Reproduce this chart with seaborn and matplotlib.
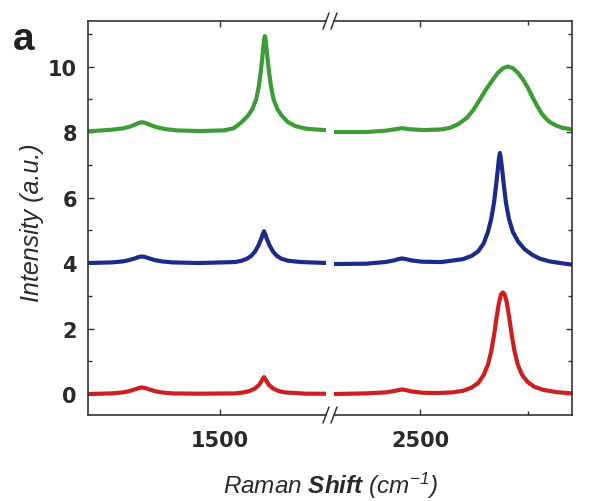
import pandas as pd
import matplotlib
matplotlib.use("Agg")
import matplotlib.pyplot as plt
import seaborn as sns
from matplotlib.lines import Line2D
from matplotlib.ticker import MultipleLocator, FixedLocator

# Spectra (x in cm^-1, intensity offset per trace)
red_x = [889, 1000, 1050, 1080, 1105, 1125, 1139, 1153, 1173, 1198,
         1230, 1280, 1400, 1569, 1610, 1640, 1662, 1680, 1693, 1700,
         1704, 1708, 1715, 1728, 1746, 1768, 1800, 1850, 1900, 2000,
         2100, 2250, 2340, 2380, 2400, 2417, 2435, 2460, 2510, 2580,
         2650, 2700, 2740, 2770, 2795, 2815, 2830, 2843, 2855, 2866,
         2876, 2884, 2892, 2902, 2913, 2925, 2938, 2953, 2973, 3000,
         3030, 3070, 3130, 3204]
red_y = [0.0, 0.02, 0.05, 0.09, 0.14, 0.185, 0.2, 0.185, 0.14, 0.09,
         0.05, 0.02, 0.01, 0.02, 0.05, 0.1, 0.17, 0.27, 0.4, 0.48,
         0.52, 0.48, 0.4, 0.27, 0.17, 0.1, 0.05, 0.03, 0.01, 0.01,
         0.0, 0.02, 0.05, 0.09, 0.12, 0.14, 0.12, 0.08, 0.04, 0.03,
         0.05, 0.1, 0.2, 0.34, 0.58, 0.9, 1.3, 1.8, 2.35, 2.8,
         3.05, 3.1, 3.05, 2.8, 2.35, 1.8, 1.3, 0.9, 0.58, 0.36,
         0.22, 0.13, 0.06, 0.02]

blue_x = [889, 1000, 1050, 1080, 1105, 1125, 1139, 1153, 1173, 1198,
          1230, 1280, 1400, 1569, 1600, 1625, 1645, 1662, 1677, 1690,
          1698, 1704, 1710, 1718, 1731, 1746, 1763, 1785, 1815, 1875,
          2000, 2100, 2250, 2340, 2380, 2400, 2417, 2435, 2460, 2510,
          2600, 2700, 2740, 2770, 2795, 2815, 2830, 2843, 2853, 2861,
          2866, 2870, 2874, 2880, 2888, 2898, 2912, 2930, 2955, 2985,
          3020, 3056, 3100, 3150, 3204]
blue_y = [4.0, 4.02, 4.05, 4.09, 4.14, 4.185, 4.2, 4.185, 4.14, 4.09,
          4.05, 4.02, 4.0, 4.03, 4.07, 4.13, 4.22, 4.35, 4.52, 4.72,
          4.87, 4.97, 4.87, 4.72, 4.52, 4.35, 4.22, 4.13, 4.07, 4.03,
          4.0, 3.97, 3.98, 4.03, 4.08, 4.12, 4.14, 4.12, 4.08, 4.04,
          4.03, 4.12, 4.22, 4.36, 4.6, 4.95, 5.35, 5.85, 6.4, 6.9,
          7.2, 7.36, 7.2, 6.9, 6.4, 5.85, 5.35, 4.95, 4.65, 4.42,
          4.25, 4.13, 4.05, 4.0, 3.95]

green_x = [889, 1000, 1050, 1080, 1105, 1125, 1139, 1153, 1175, 1205,
           1245, 1300, 1407, 1520, 1565, 1600, 1630, 1650, 1668, 1680,
           1688, 1695, 1701, 1705, 1708, 1711, 1715, 1721, 1728, 1736,
           1748, 1766, 1786, 1815, 1850, 1900, 2000, 2100, 2250, 2340,
           2380, 2400, 2417, 2435, 2460, 2520, 2600, 2640, 2680, 2720,
           2750, 2778, 2808, 2838, 2860, 2885, 2907, 2930, 2955, 2977,
           3000, 3020, 3042, 3065, 3085, 3102, 3130, 3160, 3204]
green_y = [8.02, 8.07, 8.11, 8.16, 8.22, 8.28, 8.3, 8.28, 8.22, 8.15,
           8.09, 8.05, 8.03, 8.05, 8.12, 8.3, 8.5, 8.7, 9.0, 9.4,
           9.8, 10.2, 10.6, 10.85, 10.93, 10.85, 10.6, 10.2, 9.8, 9.4,
           9.0, 8.7, 8.5, 8.3, 8.18, 8.1, 8.05, 8.0, 8.0, 8.04,
           8.08, 8.1, 8.12, 8.1, 8.08, 8.06, 8.08, 8.13, 8.25, 8.45,
           8.7, 9.0, 9.32, 9.6, 9.8, 9.95, 10.0, 9.95, 9.8, 9.6,
           9.35, 9.08, 8.8, 8.55, 8.4, 8.3, 8.2, 8.13, 8.08]

y_ticks = [0, 2, 4, 6, 8, 10]

series = [
    (red_x, red_y, "#cc1f1f"),
    (blue_x, blue_y, "#1c2a8c"),
    (green_x, green_y, "#3e9c37"),
]

sns.set_style("ticks")
plt.rcParams["font.family"] = ["Liberation Sans", "DejaVu Sans"]
plt.rcParams["mathtext.fontset"] = "custom"
plt.rcParams["mathtext.rm"] = "Liberation Sans:italic"
plt.rcParams["mathtext.it"] = "Liberation Sans:italic"
plt.rcParams["mathtext.bf"] = "Liberation Sans:italic:bold"

W, H = 598, 502
fig = plt.figure(figsize=(W / 100, H / 100), dpi=100)


def box(x0, x1, y0, y1):
    # pixel edges -> figure fraction
    return [x0 / W, 1 - y1 / H, (x1 - x0) / W, (y1 - y0) / H]


ax_l = fig.add_axes(box(88, 326, 22, 416))
ax_r = fig.add_axes(box(334, 572, 22, 416))

for ax in (ax_l, ax_r):
    for xs, ys, c in series:
        df = pd.DataFrame({"shift": xs, "intensity": ys})
        sns.lineplot(data=df, x="shift", y="intensity", ax=ax, color=c,
                     lw=3.0, legend=False)
    ax.set_xlabel("")
    ax.set_ylabel("")
    ax.set_ylim(-0.64, 11.39)
    ax.set_yticks(y_ticks)
    ax.yaxis.set_minor_locator(MultipleLocator(1))
    for sp in ax.spines.values():
        sp.set_linewidth(1.2)
        sp.set_color("#333333")

ax_l.set_xlim(889, 1991)
ax_r.set_xlim(2102, 3204)
ax_l.set_xticks([1500])
ax_r.set_xticks([2500])
ax_r.xaxis.set_minor_locator(FixedLocator([3000]))
ax_l.spines["right"].set_visible(False)
ax_r.spines["left"].set_visible(False)

ax_l.tick_params(which="both", direction="in", top=True, right=False,
                 color="#333333", width=1)
ax_l.tick_params(which="major", length=4, labelsize=15)
ax_l.tick_params(which="minor", length=3)
ax_l.tick_params(axis="x", pad=11)
ax_l.tick_params(axis="y", pad=8)

ax_r.tick_params(which="both", direction="in", top=True, left=False,
                 right=True, labelleft=False, color="#333333", width=1)
ax_r.tick_params(which="major", length=4, labelsize=15)
ax_r.tick_params(which="minor", length=3)
ax_r.tick_params(axis="x", pad=11)

for ax in (ax_l, ax_r):
    for lab in ax.get_xticklabels() + ax.get_yticklabels():
        lab.set_fontfamily("DejaVu Sans")
        lab.set_fontweight("bold")
        lab.set_color("#2a2a2a")

# break marks on top and bottom spines
for py in (22, 416):
    for px in (326, 334):
        fig.add_artist(Line2D([(px - 3) / W, (px + 3) / W],
                              [1 - (py + 8) / H, 1 - (py - 8) / H],
                              transform=fig.transFigure, color="#333333",
                              lw=1.1))

fig.text(24 / W, 1 - 40 / H, "a", fontsize=28, fontweight="bold",
         ha="center", va="center", color="#222222")
fig.text(32 / W, 1 - 223 / H, "Intensity (a.u.)", rotation=90, fontsize=18,
         style="italic", ha="center", va="center", color="#2a2a2a")
fig.text(330 / W, 1 - 486 / H, r"Raman $\mathbf{Shift}$ (cm$^{-1}$)",
         fontsize=17.5, style="italic", ha="center", va="center",
         color="#2a2a2a")

fig.savefig("out.png", dpi=100)
